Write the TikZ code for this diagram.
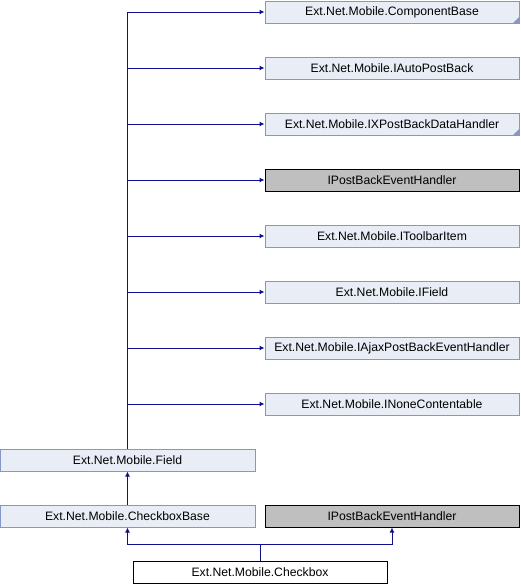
\documentclass[tikz,border=0pt]{standalone}
\usepackage{fontspec}
\setmainfont{Liberation Sans}
\usetikzlibrary{arrows.meta}

\definecolor{boxfill}{HTML}{E8EDF6}
\definecolor{boxline}{HTML}{8497C8}
\definecolor{extfill}{HTML}{BFBFBF}
\definecolor{inhline}{HTML}{10108F}

\begin{document}
\begin{tikzpicture}[
		x=1pt, y=-1pt,
		every node/.style={rectangle, draw=boxline, fill=boxfill, line width=1pt,
			minimum width=254pt, minimum height=22pt, inner sep=0pt,
			font=\fontsize{12.2}{14}\selectfont},
		ext/.style={draw=black, fill=extfill},
		leaf/.style={draw=black, fill=white},
		truncated/.style={path picture={\fill[boxline] (path picture bounding box.south east)
			-- ++(-6pt,0pt) -- ++(6pt,6pt) -- cycle;}},
		inh/.style={draw=inhline, line width=1pt, -{Latex[length=5pt,width=5pt]}}
	]
  \useasboundingbox (0,0) rectangle (520,584);
  \node (compbase) [truncated] at (392, 12) {Ext.Net.Mobile.ComponentBase};
  \node (autopb) at (392, 68) {Ext.Net.Mobile.IAutoPostBack};
  \node (xpbdata) [truncated] at (392, 124) {Ext.Net.Mobile.IXPostBackDataHandler};
  \node (pbevent) [ext] at (392, 180) {IPostBackEventHandler};
  \node (toolbar) at (392, 236) {Ext.Net.Mobile.IToolbarItem};
  \node (ifield) at (392, 292) {Ext.Net.Mobile.IField};
  \node (ajaxpb) at (392, 348) {Ext.Net.Mobile.IAjaxPostBackEventHandler};
  \node (nonecont) at (392, 404) {Ext.Net.Mobile.INoneContentable};
  \node (field) [minimum width=255pt] at (127.5, 460) {Ext.Net.Mobile.Field};
  \node (cbbase) [minimum width=255pt] at (127.5, 516) {Ext.Net.Mobile.CheckboxBase};
  \node (pbevent2) [ext] at (392, 516) {IPostBackEventHandler};
  \node (checkbox) [leaf] at (260, 572) {Ext.Net.Mobile.Checkbox};
  \coordinate (split) at (260, 544);
  \draw [inh] (field.north) |- (compbase.west);
  \draw [inh] (field.north) |- (autopb.west);
  \draw [inh] (field.north) |- (xpbdata.west);
  \draw [inh] (field.north) |- (pbevent.west);
  \draw [inh] (field.north) |- (toolbar.west);
  \draw [inh] (field.north) |- (ifield.west);
  \draw [inh] (field.north) |- (ajaxpb.west);
  \draw [inh] (field.north) |- (nonecont.west);
  \draw [inh] (cbbase) -- (field);
  \draw [inh] (checkbox.north) -- (split) -| (cbbase.south);
  \draw [inh] (split) -| (pbevent2.south);
\end{tikzpicture}
\end{document}
